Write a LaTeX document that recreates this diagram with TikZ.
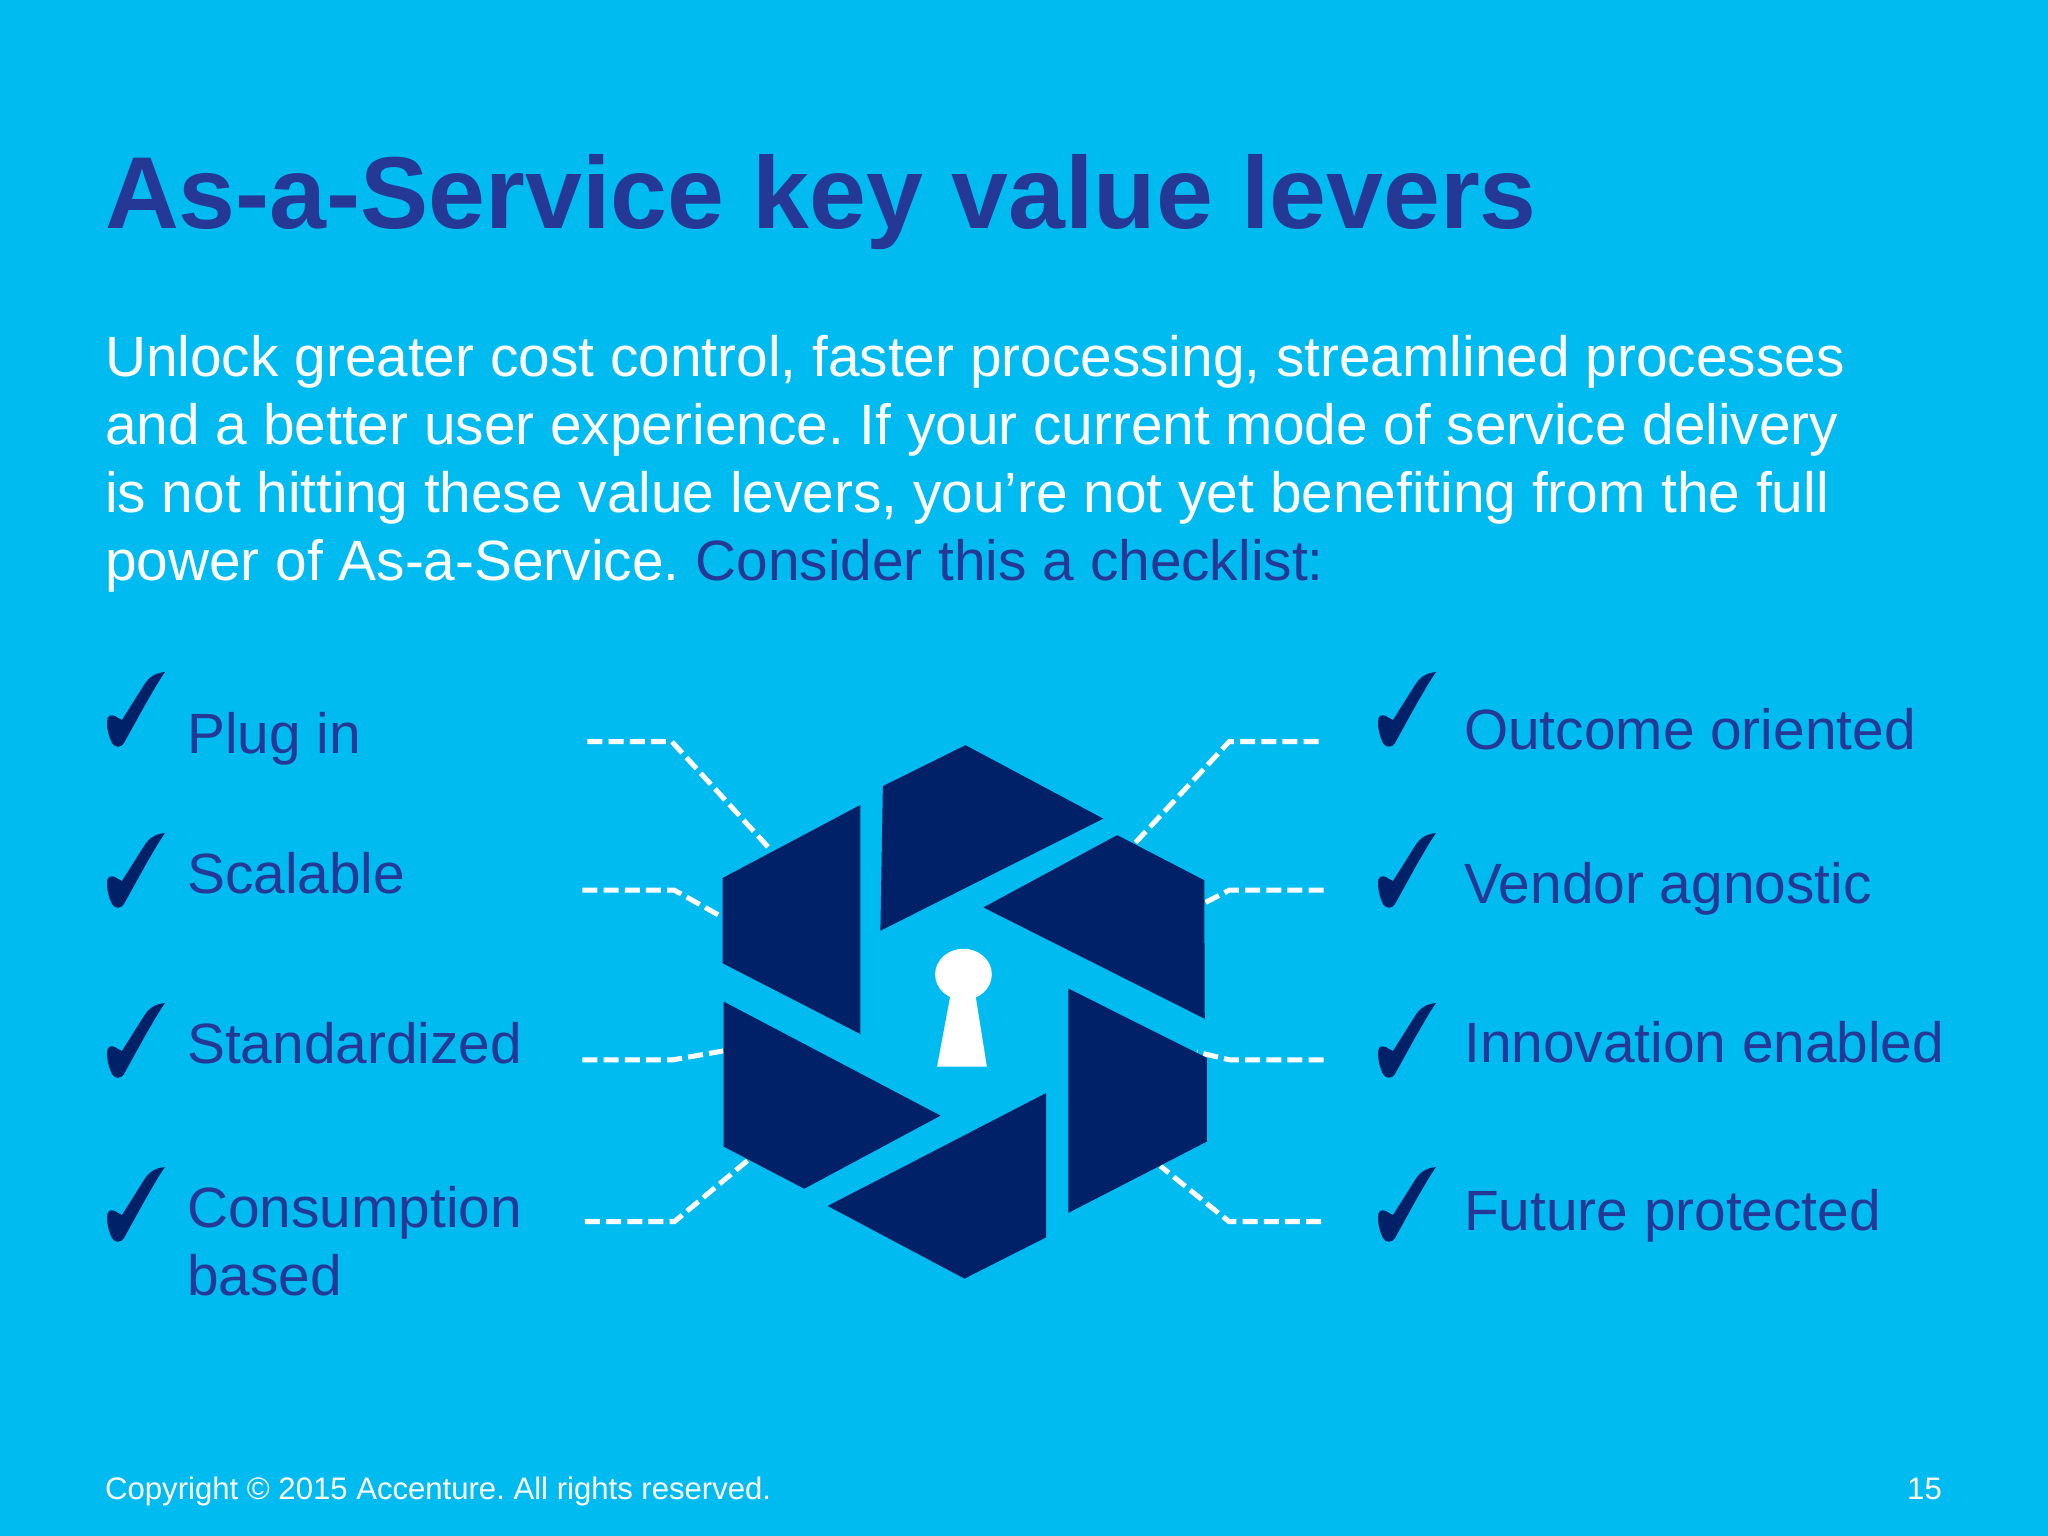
\documentclass[tikz,border=0pt]{standalone}
\usepackage{fontspec}
\setmainfont{Liberation Sans}
\definecolor{bgc}{RGB}{0,187,240}
\definecolor{navy}{RGB}{0,33,103}
\definecolor{txtblue}{RGB}{37,56,150}
\tikzset{
  titletxt/.style={anchor=base west,inner sep=0pt,text=txtblue,font=\fontsize{102.2}{110}\selectfont\bfseries},
  bodytxt/.style={anchor=base west,inner sep=0pt,text=white,font=\fontsize{56.8}{68}\selectfont},
  labeltxt/.style={anchor=base west,inner sep=0pt,text=txtblue,font=\fontsize{56.8}{68}\selectfont},
  foot/.style={inner sep=0pt,text=white,font=\fontsize{31.1}{36}\selectfont},
  leader/.style={draw=white,line width=5pt,dash pattern=on 15pt off 6.2pt},
  hexpart/.style={fill=navy,draw=none},
  chk/.pic={\fill[navy] (0,0) .. controls (-10,1) and (-16,5) .. (-21,13)
     -- (-43,48) .. controls (-46,47) and (-48,45) .. (-50,44)
     .. controls (-55,42) and (-58,44) .. (-58,50)
     .. controls (-58,58) and (-56,65) .. (-53,71)
     .. controls (-50,76) and (-44,76) .. (-41,71)
     -- (-20,33) .. controls (-13,21) and (-7,10) .. (0,0) -- cycle;}
}
\frenchspacing
\begin{document}
\begin{tikzpicture}[x=1pt,y=-1pt]
\useasboundingbox (0,0) rectangle (2048,1536);
\fill[bgc] (0,0) rectangle (2048,1536);
\node[titletxt] (title) at (105,228) {As-a-Service key value levers};
\node[bodytxt] (b1) at (105,376) {Unlock greater cost control, faster processing, streamlined processes};
\node[bodytxt] (b2) at (105,444) {and a better user experience. If your current mode of service delivery};
\node[bodytxt] (b3) at (105,512) {is not hitting these value levers, you’re not yet benefiting from the full};
\node[bodytxt] (b4) at (105,580) {power of As-a-Service. \textcolor{txtblue}{Consider this a checklist:}};
\foreach \x in {165,1436}{\foreach \y in {672,833,1003,1167}{\pic at (\x,\y) {chk};}}
\node[labeltxt] (l1) at (187,753) {Plug in};
\node[labeltxt] (l2) at (187,893) {Scalable};
\node[labeltxt] (l3) at (187,1063) {Standardized};
\node[labeltxt] (l4) at (187,1227) {Consumption};
\node[labeltxt] (l4b) at (187,1295) {based};
\node[labeltxt] (r1) at (1464,749) {Outcome oriented};
\node[labeltxt] (r2) at (1464,903) {Vendor agnostic};
\node[labeltxt] (r3) at (1464,1062) {Innovation enabled};
\node[labeltxt] (r4) at (1464,1230) {Future protected};
\begin{scope}[shift={(560,700)},x=0.4975pt,y=-0.3827pt]
\draw[leader] (55,109) -- (225,109) -- (421,388);
\draw[leader] (45,497) -- (230,497) -- (323,565);
\draw[leader] (45,940) -- (228,940) -- (328,917);
\draw[leader] (50,1363) -- (230,1363) -- (380,1200);
\draw[leader] (1525,109) -- (1345,109) -- (1155,375);
\draw[leader] (1535,497) -- (1345,497) -- (1296,530);
\draw[leader] (1535,940) -- (1345,940) -- (1280,920);
\draw[leader] (1530,1363) -- (1345,1363) -- (1207,1218);
\path[hexpart] (327,465) -- (604,274) -- (604,873) -- (327,688) -- cycle;
\path[hexpart] (649,225) -- (815,118) -- (1092,310) -- (644,603) -- cycle;
\path[hexpart] (1120,353) -- (1295,471) -- (1296,833) -- (851,542) -- cycle;
\path[hexpart] (1022,754) -- (1300,935) -- (1300,1154) -- (1022,1340) -- cycle;
\path[hexpart] (977,1027) -- (977,1404) -- (813,1512) -- (538,1322) -- cycle;
\path[hexpart] (329,788) -- (765,1086) -- (491,1277) -- (329,1167) -- cycle;
\fill[white] (811,717) ellipse [x radius=57,y radius=67];
\fill[white] (785,770) -- (835,770) -- (858,958) -- (758,958) -- cycle;
\end{scope}
\node[foot,anchor=base west] (copy) at (105,1499) {Copyright © 2015 Accenture. All rights reserved.};
\node[foot,anchor=base east] (page) at (1942,1499) {15};
\end{tikzpicture}
\end{document}
